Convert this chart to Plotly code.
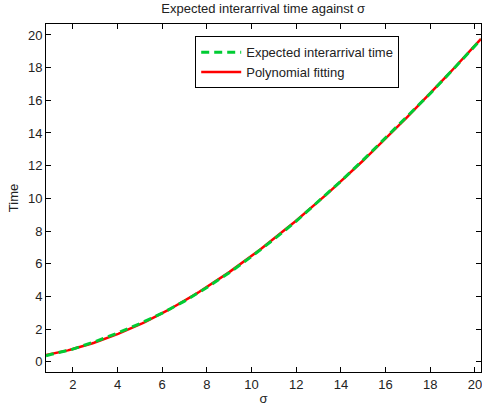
import numpy as np
import plotly.graph_objects as go

# Expected interarrival time sampled against sigma
sigma = [0.8, 1, 2, 3, 4, 5, 6, 7, 8, 9, 10, 11, 12, 13, 14, 15, 16, 17, 18, 19, 20, 20.27]
expected_time = [0.36, 0.44, 0.77, 1.23, 1.75, 2.33, 2.97, 3.71, 4.54, 5.44, 6.44, 7.49, 8.60,
                 9.80, 11.05, 12.35, 13.70, 15.05, 16.42, 17.86, 19.35, 19.73]

x_ticks = [2, 4, 6, 8, 10, 12, 14, 16, 18, 20]
y_ticks = [0, 2, 4, 6, 8, 10, 12, 14, 16, 18, 20]

# Third-order polynomial fitted to the samples
coeffs = np.polyfit(sigma, expected_time, 3)
sigma_fine = np.linspace(min(sigma), max(sigma), 200)
fit_time = np.polyval(coeffs, sigma_fine)

FONT = "Liberation Sans, Arial, sans-serif"
TEXT = "#222222"

fig = go.Figure()
fig.add_trace(go.Scatter(
    x=sigma_fine, y=fit_time, mode="lines", name="Polynomial fitting",
    line=dict(color="#ff0000", width=2.5), legendrank=2,
))
fig.add_trace(go.Scatter(
    x=sigma, y=expected_time, mode="lines", name="Expected interarrival time",
    line=dict(color="#00cc33", width=3, dash="8px,5px"), legendrank=1,
))

axis_common = dict(
    showgrid=False, zeroline=False, showline=True, linecolor="black", linewidth=1,
    mirror="ticks", ticks="inside", ticklen=5, tickcolor="black", tickwidth=1,
    tickfont=dict(family=FONT, size=13, color=TEXT),
    ticklabeloverflow="allow",
)

fig.update_layout(
    width=482, height=413,
    margin=dict(l=46, r=1, t=24, b=41),
    paper_bgcolor="white", plot_bgcolor="white",
    title=dict(text="Expected interarrival time against σ", x=0.546, xanchor="center",
               y=0.979, yanchor="middle",
               font=dict(family=FONT, size=13, color=TEXT)),
    xaxis=dict(range=[0.8, 20.27], tickvals=x_ticks,
               title=dict(text="σ", font=dict(family=FONT, size=13, color=TEXT), standoff=3),
               **axis_common),
    yaxis=dict(range=[-0.63, 20.67], tickvals=y_ticks,
               title=dict(text="Time", font=dict(family=FONT, size=13, color=TEXT), standoff=6),
               **axis_common),
    legend=dict(x=0.343, y=0.965, xanchor="left", yanchor="top",
                bgcolor="white", bordercolor="black", borderwidth=1,
                font=dict(family=FONT, size=13, color=TEXT),
                itemwidth=40, tracegroupgap=0),
    showlegend=True,
)

fig.write_html("out.html")
